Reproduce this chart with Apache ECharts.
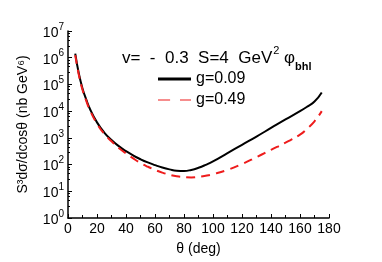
<!DOCTYPE html>
<html><head><meta charset="utf-8">
<script src="https://cdn.jsdelivr.net/npm/echarts@6/dist/echarts.min.js"></script>
<style>html,body{margin:0;padding:0;background:#fff}#c{width:382px;height:262px}</style>
</head><body><div id="c"></div>
<script>
const theta = [5,7.5,10,12.5,15,20,25,30,35,40,45,50,55,60,65,70,75,80,85,90,95,100,110,120,130,140,150,160,165,170,175];
const logG009 = [6.15,5.4,4.85,4.45,4.1,3.58,3.2,2.92,2.69,2.5,2.34,2.2,2.08,1.98,1.89,1.82,1.77,1.76,1.8,1.88,1.99,2.12,2.43,2.74,3.05,3.37,3.69,4.0,4.17,4.36,4.7];
const logG049 = [6.1,5.35,4.8,4.4,4.05,3.53,3.15,2.87,2.62,2.42,2.23,2.06,1.92,1.8,1.7,1.62,1.56,1.53,1.52,1.54,1.58,1.64,1.8,2.02,2.28,2.55,2.82,3.12,3.35,3.62,4.0];
const seriesNames = ['g=0.09','g=0.49'];
const xTicks = [0,20,40,60,80,100,120,140,160,180];
const yExps = [0,1,2,3,4,5,6,7];

const toPairs = (arr) => theta.map((t,i)=>[t, Math.pow(10, arr[i])]);
const font = 'Liberation Sans, Arial, Helvetica, sans-serif';
const chart = echarts.init(document.getElementById('c'));
chart.setOption({
  animation:false,
  backgroundColor:'#fff',
  grid:{left:68,right:53,top:31,bottom:44},
  title:{
    text:'{m|v=  -  0.3  S=4  GeV}{s|2}{m| φ}{b|bhl}',
    left:117, top:40,
    textStyle:{fontWeight:'normal',rich:{
      m:{fontSize:17,fontFamily:font,fontWeight:'normal',color:'#000',lineHeight:22,verticalAlign:'bottom'},
      s:{fontSize:11,fontFamily:font,fontWeight:'normal',color:'#000',lineHeight:22,verticalAlign:'top',padding:[0,0,0,1]},
      b:{fontSize:11,fontWeight:'bold',fontFamily:font,color:'#000',lineHeight:22,verticalAlign:'bottom',padding:[0,0,-5,0]}
    }}
  },
  legend:{
    orient:'vertical', left:153, top:65, itemWidth:33, itemHeight:3, itemGap:3,
    textStyle:{fontSize:16,fontFamily:font,color:'#000',lineHeight:18},
    data:[
      {name:seriesNames[0], icon:'rect'},
      {name:seriesNames[1], icon:'path://M0,0h11v1h-11zM20,0h10v1h-10z'}
    ]
  },
  xAxis:{
    type:'value', min:0, max:180, interval:20,
    name:'θ (deg)', nameLocation:'middle', nameGap:24,
    nameTextStyle:{fontSize:14,fontFamily:font,color:'#000'},
    axisLine:{lineStyle:{color:'#000',width:1.5}},
    axisTick:{inside:true,length:4,lineStyle:{color:'#000'}},
    minorTick:{show:true,splitNumber:2,length:3,lineStyle:{color:'#000'}},
    axisLabel:{fontSize:14,fontFamily:font,color:'#000',margin:4},
    splitLine:{show:false}
  },
  yAxis:{
    type:'log', logBase:10, min:1, max:1e7,
    name:'S³dσ/dcosθ (nb GeV⁶)', nameLocation:'middle', nameGap:38,
    nameTextStyle:{fontSize:14,fontFamily:font,color:'#000'},
    axisLine:{show:true,lineStyle:{color:'#000',width:1.5}},
    axisTick:{inside:true,length:4,lineStyle:{color:'#000'}},
    minorTick:{show:true,splitNumber:5,length:2,lineStyle:{color:'#000'}},
    axisLabel:{margin:4,
      formatter:(v)=>{const e=Math.round(Math.log10(v)); return yExps.includes(e)?'{b|10}{s|'+e+'}':'';},
      rich:{
        b:{fontSize:14,fontFamily:font,color:'#000',lineHeight:18,verticalAlign:'bottom'},
        s:{fontSize:10,fontFamily:font,color:'#000',lineHeight:18,verticalAlign:'top'}
      }},
    splitLine:{show:false}
  },
  series:[
    {name:seriesNames[0],type:'line',smooth:true,symbol:'none',data:toPairs(logG009),
     lineStyle:{color:'#000',width:2},itemStyle:{color:'#000'}},
    {name:seriesNames[1],type:'line',smooth:true,symbol:'none',data:toPairs(logG049),
     lineStyle:{color:'#ee1c1c',width:2,type:[9,6]},itemStyle:{color:'#ee1c1c'}}
  ]
});
</script></body></html>
